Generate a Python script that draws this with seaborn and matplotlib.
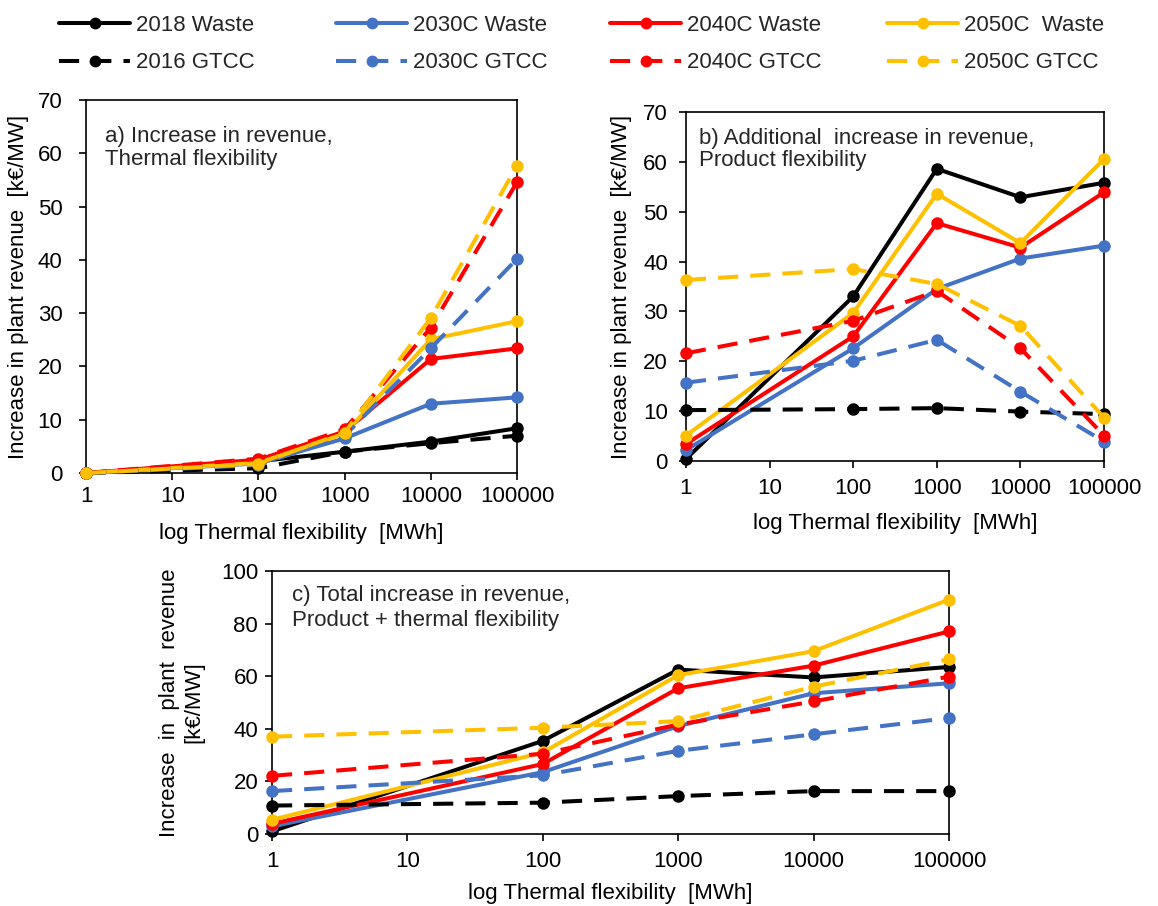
import numpy as np
import pandas as pd
import matplotlib
matplotlib.use("Agg")
import matplotlib.pyplot as plt
import seaborn as sns
from matplotlib.lines import Line2D
from matplotlib.ticker import FixedLocator, FixedFormatter, NullLocator

# ---------------- data ----------------
x_vals = [1, 100, 1000, 10000, 100000]
x_ticks = [1, 10, 100, 1000, 10000, 100000]
x_tick_labels = ["1", "10", "100", "1000", "10000", "100000"]

# panel a) Increase in revenue, thermal flexibility
a_2018_waste = [0, 2.2, 4.0, 5.9, 8.4]
a_2016_gtcc = [0, 0.9, 4.0, 5.6, 7.0]
a_2030_waste = [0, 1.8, 6.5, 13.0, 14.2]
a_2030_gtcc = [0, 1.5, 7.0, 23.4, 40.2]
a_2040_waste = [0, 2.5, 7.8, 21.4, 23.4]
a_2040_gtcc = [0, 2.7, 8.2, 27.3, 54.6]
a_2050_waste = [0, 1.9, 7.4, 25.1, 28.5]
a_2050_gtcc = [0, 1.7, 7.6, 29.1, 57.7]

# panel b) Additional increase in revenue, product flexibility
b_2018_waste = [0.4, 33.0, 58.6, 52.9, 55.8]
b_2016_gtcc = [10.2, 10.4, 10.6, 9.9, 9.4]
b_2030_waste = [2.2, 22.6, 34.5, 40.6, 43.2]
b_2030_gtcc = [15.7, 20.1, 24.3, 13.9, 3.9]
b_2040_waste = [3.4, 25.0, 47.7, 42.8, 53.9]
b_2040_gtcc = [21.6, 28.1, 34.1, 22.6, 5.1]
b_2050_waste = [5.1, 29.7, 53.6, 43.7, 60.6]
b_2050_gtcc = [36.3, 38.5, 35.5, 27.1, 8.7]

# panel c) Total increase in revenue, product + thermal flexibility
c_2018_waste = [1.0, 35.4, 62.5, 59.5, 63.5]
c_2016_gtcc = [10.8, 11.9, 14.4, 16.3, 16.3]
c_2030_waste = [2.9, 23.5, 41.0, 53.5, 57.3]
c_2030_gtcc = [16.3, 22.3, 31.6, 37.9, 44.1]
c_2040_waste = [3.9, 26.6, 55.4, 64.0, 77.0]
c_2040_gtcc = [22.1, 30.5, 41.6, 50.4, 59.8]
c_2050_waste = [5.4, 31.0, 60.4, 69.5, 89.1]
c_2050_gtcc = [37.0, 40.4, 42.9, 56.0, 66.4]

waste_labels = ["2018 Waste", "2030C Waste", "2040C Waste", "2050C  Waste"]
gtcc_labels = ["2016 GTCC", "2030C GTCC", "2040C GTCC", "2050C GTCC"]
colors = ["#000000", "#4472C4", "#FF0000", "#FFC000"]

panel_a = {"waste": [a_2018_waste, a_2030_waste, a_2040_waste, a_2050_waste],
           "gtcc": [a_2016_gtcc, a_2030_gtcc, a_2040_gtcc, a_2050_gtcc]}
panel_b = {"waste": [b_2018_waste, b_2030_waste, b_2040_waste, b_2050_waste],
           "gtcc": [b_2016_gtcc, b_2030_gtcc, b_2040_gtcc, b_2050_gtcc]}
panel_c = {"waste": [c_2018_waste, c_2030_waste, c_2040_waste, c_2050_waste],
           "gtcc": [c_2016_gtcc, c_2030_gtcc, c_2040_gtcc, c_2050_gtcc]}

# ---------------- style ----------------
sns.set_theme(style="white")
plt.rcParams["font.family"] = ["Liberation Sans", "DejaVu Sans"]
plt.rcParams["axes.edgecolor"] = "black"
plt.rcParams["axes.linewidth"] = 1.2

FS = 16
LW = 2.9
MS = 9.0
DASH = (0, (5.0, 3.0))

fig = plt.figure(figsize=(11.58, 9.06), dpi=100)
ax_a = fig.add_axes([0.0743, 0.4779, 0.3722, 0.4117])
ax_b = fig.add_axes([0.5924, 0.4912, 0.3610, 0.3852])
ax_c = fig.add_axes([0.2349, 0.0795, 0.5846, 0.2903])


def draw(ax, panel, ymax, ystep):
    for vals, col in zip(panel["waste"], colors):
        sns.lineplot(x=x_vals, y=vals, ax=ax, color=col, linewidth=LW,
                     marker="o", markersize=MS, markeredgecolor=col,
                     markerfacecolor=col, markeredgewidth=0, estimator=None,
                     sort=False, clip_on=False)
    for vals, col in zip(panel["gtcc"], colors):
        sns.lineplot(x=x_vals, y=vals, ax=ax, color=col, linewidth=LW,
                     linestyle=DASH, marker="o", markersize=MS,
                     markeredgecolor=col, markerfacecolor=col,
                     markeredgewidth=0, estimator=None, sort=False,
                     clip_on=False)
    ax.set_xscale("log")
    ax.set_xlim(1, 100000)
    ax.set_ylim(0, ymax)
    ax.xaxis.set_major_locator(FixedLocator(x_ticks))
    ax.xaxis.set_major_formatter(FixedFormatter(x_tick_labels))
    ax.xaxis.set_minor_locator(NullLocator())
    ax.set_yticks(np.arange(0, ymax + 0.1, ystep))
    ax.tick_params(axis="both", which="major", direction="out", length=5,
                   width=1.2, color="black", labelsize=FS, labelcolor="black",
                   bottom=True, left=True)
    for sp in ax.spines.values():
        sp.set_visible(True)
        sp.set_color("black")
        sp.set_linewidth(1.2)
        sp.set_zorder(0.5)
    ax.grid(False)


draw(ax_a, panel_a, 70, 10)
draw(ax_b, panel_b, 70, 10)
draw(ax_c, panel_c, 100, 20)

ax_a.tick_params(axis="x", pad=4)
ax_a.tick_params(axis="y", pad=12)
ax_b.tick_params(axis="x", pad=7)
ax_b.tick_params(axis="y", pad=8)
ax_c.tick_params(axis="x", pad=7)
ax_c.tick_params(axis="y", pad=5)

xl = "log Thermal flexibility  [MWh]"
ax_a.set_xlabel(xl, fontsize=FS, color="black", labelpad=12)
ax_b.set_xlabel(xl, fontsize=FS, color="black", labelpad=10)
ax_c.set_xlabel(xl, fontsize=FS, color="black", labelpad=8)
ax_a.set_ylabel("Increase in plant revenue  [k€/MW]", fontsize=FS,
                color="black", labelpad=6)
ax_b.set_ylabel("Increase in plant revenue  [k€/MW]", fontsize=FS,
                color="black", labelpad=8)
ax_c.set_ylabel("Increase  in  plant  revenue\n[k€/MW]", fontsize=FS,
                color="black", labelpad=12)

ax_a.text(0.045, 0.93, "a) Increase in revenue,\nThermal flexibility",
          transform=ax_a.transAxes, fontsize=FS, va="top", ha="left",
          linespacing=1.1)
ax_b.text(0.03, 0.955, "b) Additional  increase in revenue,\nProduct flexibility",
          transform=ax_b.transAxes, fontsize=FS, va="top", ha="left",
          linespacing=1.1)
ax_c.text(0.03, 0.945, "c) Total increase in revenue,\nProduct + thermal flexibility",
          transform=ax_c.transAxes, fontsize=FS, va="top", ha="left",
          linespacing=1.2)

# ---------------- legend (four columns, two rows) ----------------
col_x = [59, 336, 610, 887]
for wl, gl, col, xp in zip(waste_labels, gtcc_labels, colors, col_x):
    h1 = Line2D([], [], color=col, lw=LW, marker="o", markersize=MS - 0.5,
                markeredgewidth=0)
    h2 = Line2D([], [], color=col, lw=LW, linestyle=DASH, marker="o",
                markersize=MS - 0.5, markeredgewidth=0)
    fig.legend([h1, h2], [wl, gl], loc="upper left",
               bbox_to_anchor=(xp / 1158, 0.9834), frameon=False,
               fontsize=FS, handlelength=3.2, handletextpad=0.27,
               labelspacing=0.74, borderpad=0, borderaxespad=0)

fig.savefig("out.png", dpi=100)
